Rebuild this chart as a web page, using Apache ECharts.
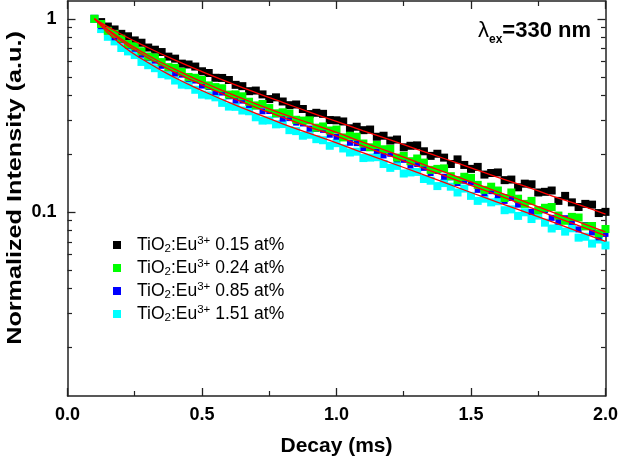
<!DOCTYPE html>
<html><head><meta charset="utf-8">
<script src="https://cdn.jsdelivr.net/npm/echarts@6/dist/echarts.min.js"></script>
<style>html,body{margin:0;padding:0;background:#fff}#c{width:621px;height:462px}</style>
</head><body><div id="c"></div>
<script>
// ---- data ----
const decay = [0.1,0.125,0.15,0.175,0.2,0.225,0.25,0.275,0.3,0.325,0.35,0.375,0.4,0.425,0.45,0.475,0.5,0.525,0.55,0.575,0.6,0.625,0.65,0.675,0.7,0.725,0.75,0.775,0.8,0.825,0.85,0.875,0.9,0.925,0.95,0.975,1.0,1.025,1.05,1.075,1.1,1.125,1.15,1.175,1.2,1.225,1.25,1.275,1.3,1.325,1.35,1.375,1.4,1.425,1.45,1.475,1.5,1.525,1.55,1.575,1.6,1.625,1.65,1.675,1.7,1.725,1.75,1.775,1.8,1.825,1.85,1.875,1.9,1.925,1.95,1.975,2.0];
const black = [1.000,0.962,0.912,0.881,0.836,0.812,0.773,0.752,0.710,0.692,
0.673,0.637,0.622,0.586,0.580,0.566,0.535,0.524,0.495,0.494,
0.482,0.455,0.448,0.422,0.425,0.406,0.384,0.392,0.373,0.357,
0.360,0.341,0.321,0.326,0.322,0.299,0.298,0.294,0.271,0.276,
0.265,0.267,0.245,0.248,0.234,0.237,0.216,0.220,0.221,0.206,
0.195,0.200,0.191,0.177,0.187,0.175,0.167,0.171,0.156,0.159,
0.160,0.146,0.147,0.134,0.140,0.139,0.126,0.127,0.129,0.114,
0.121,0.112,0.106,0.110,0.109,0.0986,0.100];
const green = [1.000,0.940,0.867,0.836,0.789,0.740,0.721,0.679,0.638,0.630,
0.597,0.562,0.557,0.531,0.500,0.495,0.482,0.452,0.443,0.437,
0.405,0.406,0.397,0.372,0.356,0.362,0.345,0.324,0.328,0.323,
0.300,0.297,0.298,0.273,0.277,0.264,0.267,0.243,0.248,0.245,
0.226,0.216,0.222,0.211,0.212,0.191,0.195,0.183,0.189,0.180,
0.165,0.167,0.168,0.153,0.146,0.152,0.150,0.138,0.130,0.135,
0.129,0.118,0.126,0.117,0.110,0.114,0.102,0.105,0.106,0.0957,
0.0899,0.0942,0.0935,0.0841,0.0845,0.0773,0.0815];
const blue = [1.000,0.916,0.863,0.802,0.773,0.726,0.700,0.652,0.628,0.607,
0.571,0.554,0.521,0.514,0.489,0.479,0.451,0.443,0.418,0.415,
0.397,0.378,0.377,0.358,0.352,0.332,0.333,0.320,0.304,0.306,
0.290,0.287,0.270,0.269,0.266,0.251,0.245,0.244,0.228,0.227,
0.214,0.216,0.207,0.196,0.200,0.187,0.186,0.174,0.177,0.169,
0.159,0.163,0.152,0.151,0.141,0.145,0.142,0.130,0.125,0.128,
0.122,0.114,0.118,0.109,0.111,0.100,0.103,0.102,0.0931,0.0889,
0.0927,0.0887,0.0811,0.0855,0.0782,0.0738,0.0769];
const cyan = [1.000,0.885,0.807,0.764,0.706,0.678,0.649,0.598,0.575,0.555,
0.517,0.509,0.479,0.456,0.453,0.429,0.405,0.401,0.392,0.367,
0.351,0.350,0.335,0.332,0.309,0.297,0.298,0.284,0.285,0.265,
0.262,0.248,0.251,0.238,0.235,0.220,0.227,0.213,0.203,0.205,
0.190,0.191,0.192,0.177,0.169,0.173,0.158,0.160,0.161,0.148,
0.145,0.136,0.141,0.135,0.126,0.132,0.121,0.114,0.117,0.112,
0.1135,0.102,0.103,0.0953,0.0995,0.0918,0.0956,0.0879,0.0820,0.0845,
0.0790,0.0822,0.0735,0.0743,0.0685,0.0719,0.0670];

const fitDecay = [0.1,0.2,0.3,0.4,0.5,0.6,0.7,0.8,0.9,1.0,1.1,1.2,1.3,1.4,1.5,1.6,1.7,1.8,1.9,2.0];
const fitBlack = [1,0.832,0.708,0.611,0.533,0.469,0.415,0.369,0.329,0.294,0.263,0.236,0.211,0.189,0.169,0.151,0.136,0.121,0.109,0.0973];
const fitGreen = [1,0.785,0.646,0.547,0.472,0.412,0.363,0.322,0.288,0.258,0.229,0.204,0.181,0.161,0.143,0.127,0.113,0.100,0.0887,0.0787];
const fitBlue  = [1,0.767,0.627,0.528,0.455,0.396,0.348,0.309,0.275,0.247,0.219,0.195,0.173,0.154,0.137,0.122,0.108,0.0957,0.0849,0.0753];
const fitCyan  = [1,0.733,0.592,0.495,0.425,0.369,0.324,0.286,0.255,0.228,0.202,0.180,0.160,0.142,0.126,0.112,0.100,0.0889,0.0791,0.0703];

const concentrations = ['0.15','0.24','0.85','1.51'];
const seriesNames = concentrations.map(c => 'TiO2:Eu3+ ' + c + ' at%');
const yMajorTicks = [0.1, 1];
const yMinorTicks = [0.02,0.03,0.04,0.05,0.06,0.07,0.08,0.09,0.2,0.3,0.4,0.5,0.6,0.7,0.8,0.9];

// ---- chart ----
const FONT = 'Arial, "Liberation Sans", sans-serif';
const AX = '#222';
const pair = (xs, ys) => xs.map((x, i) => [x, ys[i]]);

const yBase = {type:'log', logBase:10, min:0.01112, max:1.237, splitLine:{show:false},
  axisLine:{show:false}, axisLabel:{show:false}, axisTick:{show:false}};
const yMajor = {show:true, inside:true, length:8, customValues:yMajorTicks, lineStyle:{color:AX, width:1.3}};
const yMinor = {show:true, inside:true, length:4.5, customValues:yMinorTicks, lineStyle:{color:AX, width:1.2}};
const axLine = {show:true, lineStyle:{color:AX, width:1.5}};

const xBase = {type:'value', min:0, max:2, interval:0.5, splitLine:{show:false},
  axisLine:axLine, axisTick:{show:true, inside:true, length:8, lineStyle:{color:AX, width:1.3}},
  minorTick:{show:true, splitNumber:2, length:5, lineStyle:{color:AX, width:1.2}}};

const colors = ['#000000','#00ff00','#0000ff','#00ffff'];
const dataSets = [black, green, blue, cyan];
const fits = [fitBlack, fitGreen, fitBlue, fitCyan];
const drawOrder = [0, 3, 2, 1];

const series = [];
drawOrder.forEach(k => {
  series.push({type:'scatter', name:seriesNames[k], data:pair(decay, dataSets[k]),
    symbol:'rect', symbolSize: k === 2 ? 6 : 8, itemStyle:{color:colors[k], opacity:1}, silent:true});
});
fits.forEach(f => {
  series.push({type:'line', data:pair(fitDecay, f), smooth:true, showSymbol:false, symbol:'none',
    lineStyle:{color:'#ff0000', width:1.3}, silent:true, z:5});
});

const chart = echarts.init(document.getElementById('c'), null, {renderer:'canvas'});
chart.setOption({
  animation:false,
  backgroundColor:'#fff',
  grid:{left:67.5, right:13, top:1, bottom:63, containLabel:false},
  xAxis:[
    Object.assign({}, xBase, {position:'bottom',
      axisLabel:{formatter:v => v.toFixed(1), fontSize:18, fontWeight:'bold', fontFamily:FONT, color:'#000', margin:10},
      name:'Decay (ms)', nameLocation:'middle', nameGap:40,
      nameTextStyle:{fontSize:21, fontWeight:'bold', fontFamily:FONT, color:'#000'}}),
    Object.assign({}, xBase, {position:'top', axisLabel:{show:false}})
  ],
  yAxis:[
    Object.assign({}, yBase, {position:'left', axisLine:axLine, axisTick:yMajor,
      axisLabel:{show:true, customValues:yMajorTicks, formatter:v => String(+(+v).toPrecision(3)),
        fontSize:18, fontWeight:'bold', fontFamily:FONT, color:'#000', margin:11}}),
    Object.assign({}, yBase, {position:'left', axisTick:yMinor}),
    Object.assign({}, yBase, {position:'right', axisLine:axLine, axisTick:yMajor}),
    Object.assign({}, yBase, {position:'right', axisTick:yMinor})
  ],
  legend:{
    data:seriesNames, orient:'vertical', left:113, top:235, padding:0, itemWidth:8, itemHeight:8, itemGap:3,
    selectedMode:false,
    formatter:name => '{a|TiO}{s|2}{a|:Eu}{p|3+}{a| ' + concentrations[seriesNames.indexOf(name)] + ' at%}',
    textStyle:{fontSize:17.5, fontFamily:FONT, color:'#000', padding:[0,0,0,11],
      rich:{
        a:{fontSize:17.5, fontFamily:FONT, color:'#000', lineHeight:20},
        s:{fontSize:11.5, fontFamily:FONT, color:'#000', verticalAlign:'bottom', lineHeight:10},
        p:{fontSize:11.5, fontFamily:FONT, color:'#000', verticalAlign:'top', lineHeight:10}
      }}
  },
  graphic:[
    {type:'text', x:15, y:188, rotation:Math.PI/2, scaleX:1.2, silent:true,
      style:{text:'Normalized Intensity (a.u.)', fontSize:21, fontWeight:'bold', fontFamily:FONT,
        fill:'#000', align:'center', verticalAlign:'middle'}},
    {type:'text', x:478, y:16, silent:true,
      style:{text:'{l|λ}{e|ex}{b|=330 nm}', fill:'#000',
        rich:{
          l:{fontSize:22, fontFamily:FONT, color:'#000', lineHeight:30},
          e:{fontSize:12, fontWeight:'bold', fontFamily:FONT, color:'#000', verticalAlign:'bottom', lineHeight:12},
          b:{fontSize:22, fontWeight:'bold', fontFamily:FONT, color:'#000', lineHeight:30}
        }}}
  ],
  series:series
});
</script></body></html>
